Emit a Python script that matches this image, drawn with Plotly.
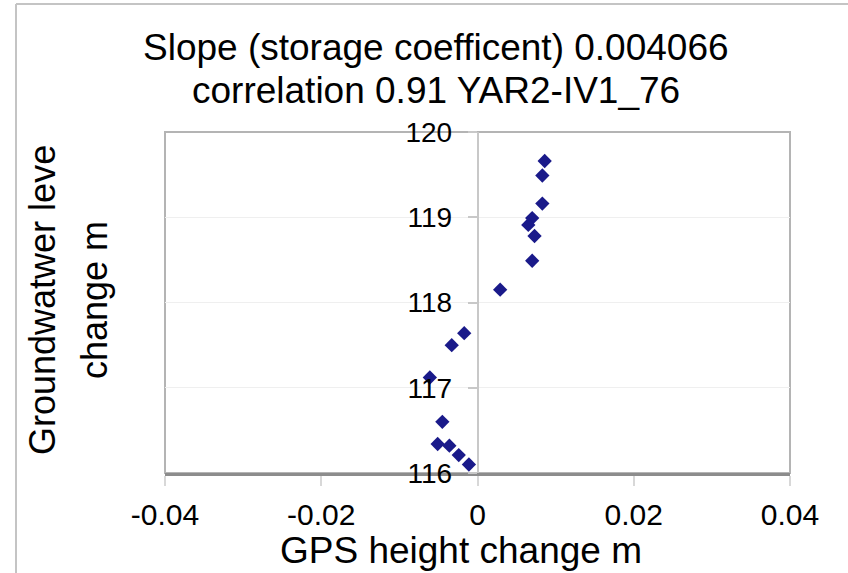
import plotly.graph_objects as go

# Data
gps_height_change = [0.0086, 0.0083, 0.0083, 0.0070, 0.0065, 0.0073, 0.0070, 0.0029,
                     -0.0017, -0.0033, -0.0061, -0.0045, -0.0051, -0.0036, -0.0024, -0.0011]
groundwater_change = [119.66, 119.49, 119.16, 118.99, 118.91, 118.78, 118.49, 118.15,
                      117.64, 117.50, 117.12, 116.60, 116.34, 116.32, 116.21, 116.10]

x_ticks = [-0.04, -0.02, 0, 0.02, 0.04]
x_tick_labels = ["-0.04", "-0.02", "0", "0.02", "0.04"]
y_ticks = [116, 117, 118, 119, 120]
y_tick_labels = ["116", "117", "118", "119", "120"]

title_lines = ["Slope (storage coefficent) 0.004066", "correlation 0.91 YAR2-IV1_76"]
x_title = "GPS height change m"
y_title_lines = ["Groundwatwer leve", "change m"]

FONT = "Liberation Sans, Arial, Helvetica, sans-serif"
W, H = 848, 573
ML, MR, MT, MB = 165, 58, 132, 100
PW, PH = W - ML - MR, H - MT - MB


def px_x(p):
    return (p - ML) / PW


def px_y(p):
    return (H - MB - p) / PH


def label(text, x, y, size, angle=0):
    return dict(text=text, xref="paper", yref="paper", x=px_x(x), y=px_y(y),
                xanchor="center", yanchor="middle", showarrow=False, textangle=angle,
                font=dict(size=size, family=FONT, color="black"))


fig = go.Figure()
fig.add_trace(go.Scatter(
    x=gps_height_change, y=groundwater_change, mode="markers",
    marker=dict(symbol="diamond", size=11, color="#1a1a8a", line=dict(width=0)),
    showlegend=False, cliponaxis=False,
))

fig.update_layout(
    width=W, height=H,
    margin=dict(l=ML, r=MR, t=MT, b=MB, pad=0),
    paper_bgcolor="white", plot_bgcolor="white",
    font=dict(family=FONT, color="black"),
    xaxis=dict(
        range=[-0.04, 0.04], tickvals=x_ticks, ticktext=x_tick_labels,
        showgrid=False, zeroline=False,
        showline=True, linecolor="#8c8c8c", linewidth=2.5,
        ticks="outside", ticklen=10, tickcolor="#d8d8d8", tickwidth=1.5,
        tickfont=dict(size=30, family=FONT, color="black"),
        ticklabelstandoff=3,
    ),
    yaxis=dict(
        range=[116, 120], tickvals=y_ticks, ticktext=y_tick_labels,
        anchor="free", position=0.5,
        showgrid=True, gridcolor="#efefef", gridwidth=1,
        zeroline=False,
        showline=True, linecolor="#c8c8c8", linewidth=1.5,
        ticks="outside", ticklen=9, tickcolor="#c8c8c8", tickwidth=1.5,
        tickfont=dict(size=28, family=FONT, color="black"),
        ticklabelstandoff=10,
    ),
    shapes=[
        # plot area border
        dict(type="rect", xref="paper", yref="paper", x0=0, x1=1, y0=0, y1=1,
             line=dict(color="#b4b4b4", width=2), layer="below"),
        # chart frame (top and left edges)
        dict(type="line", xref="paper", yref="paper",
             x0=px_x(16), x1=px_x(850), y0=px_y(4), y1=px_y(4),
             line=dict(color="#c4c4c4", width=2)),
        dict(type="line", xref="paper", yref="paper",
             x0=px_x(16), x1=px_x(16), y0=px_y(4), y1=px_y(575),
             line=dict(color="#c4c4c4", width=2)),
    ],
    annotations=[
        label(title_lines[0], 436, 47, 37),
        label(title_lines[1], 436, 90, 37),
        label(x_title, 461, 550, 37),
        label(y_title_lines[0], 42, 300, 36, -90),
        label(y_title_lines[1], 94, 300, 36, -90),
    ],
)

fig.write_html("out.html")
